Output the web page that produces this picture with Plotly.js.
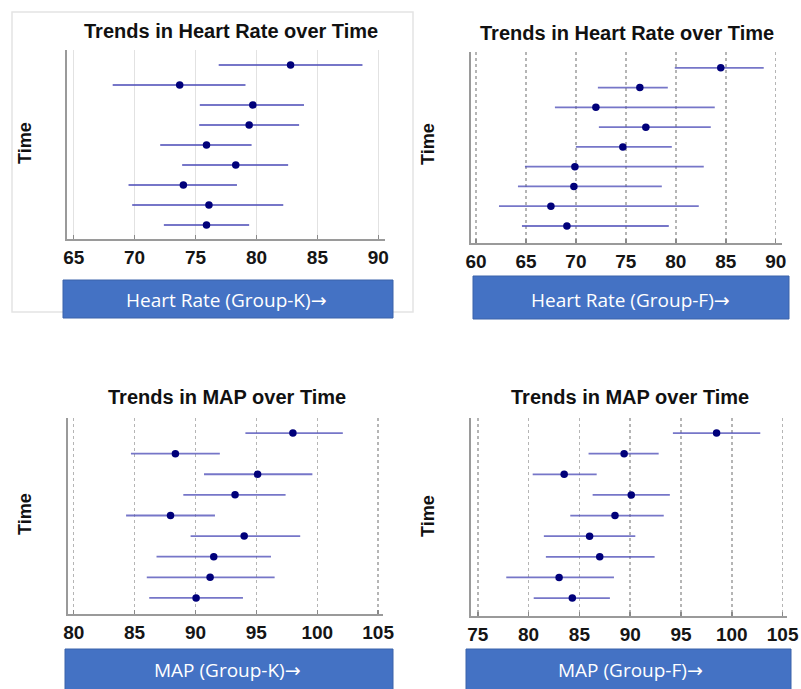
<!DOCTYPE html>
<html>
<head>
<meta charset="utf-8">
<script src="https://cdn.plot.ly/plotly-3.0.1.min.js"></script>
<style>html,body{margin:0;padding:0;background:#fff;}#chart{width:801px;height:689px;}</style>
</head>
<body>
<div id="chart"></div>
<script>
// Time points, top to bottom
const timePoints = [1, 2, 3, 4, 5, 6, 7, 8, 9];

// Heart Rate, Group-K
const hrK_mean = [82.8, 73.7, 79.7, 79.4, 75.9, 78.3, 74.0, 76.1, 75.9];
const hrK_low  = [76.9, 68.2, 75.35, 75.3, 72.1, 73.9, 69.5, 69.8, 72.4];
const hrK_high = [88.7, 79.1, 83.9, 83.5, 79.6, 82.6, 78.4, 82.2, 79.4];

// Heart Rate, Group-F
const hrF_mean = [84.5, 76.4, 72.0, 77.0, 74.7, 69.9, 69.8, 67.5, 69.1];
const hrF_low  = [79.9, 72.2, 67.9, 72.3, 70.0, 64.9, 64.2, 62.3, 64.6];
const hrF_high = [88.8, 79.2, 83.9, 83.5, 79.6, 82.8, 78.6, 82.3, 79.3];

// MAP, Group-K
const mapK_mean = [98.0, 88.35, 95.1, 93.25, 87.95, 94.0, 91.5, 91.2, 90.05];
const mapK_low  = [94.1, 84.7, 90.7, 89.0, 84.3, 89.6, 86.8, 86.0, 86.2];
const mapK_high = [102.1, 92.0, 99.6, 97.4, 91.6, 98.6, 96.2, 96.5, 93.9];

// MAP, Group-F
const mapF_mean = [98.5, 89.4, 83.5, 90.1, 88.5, 86.0, 87.0, 83.0, 84.3];
const mapF_low  = [94.2, 85.9, 80.4, 86.3, 84.1, 81.5, 81.7, 77.8, 80.5];
const mapF_high = [102.8, 92.8, 86.7, 93.9, 93.3, 90.5, 92.4, 88.4, 88.0];

const panelTitles = ["Trends in Heart Rate over Time", "Trends in Heart Rate over Time",
                     "Trends in MAP over Time", "Trends in MAP over Time"];
const boxLabels = ["Heart Rate (Group-K)", "Heart Rate (Group-F)",
                   "MAP (Group-K)", "MAP (Group-F)"];
const arrowGlyph = "\u2192";
const yLabel = "Time";

const W = 801, H = 689;
const px = v => v / W;
const py = v => 1 - v / H;

const series = [
  {mean: hrK_mean, low: hrK_low, high: hrK_high},
  {mean: hrF_mean, low: hrF_low, high: hrF_high},
  {mean: mapK_mean, low: mapK_low, high: mapK_high},
  {mean: mapF_mean, low: mapF_low, high: mapF_high}
];

// layout geometry (pixels)
const geo = [
  {x0: 67, x1: 385, y0: 50, y1: 239, xr: [64.45, 90.55], yr: [9.7, 0.25], ticks: [65,70,75,80,85,90], dash: 'solid',
   title: [231, 31], ylab: [25, 143], box: [63, 393, 280, 318], boxText: [226, 300]},
  {x0: 470.7, x1: 781.7, y0: 52, y1: 243, xr: [59.47, 90.6], yr: [9.86, 0.2], ticks: [60,65,70,75,80,85,90], dash: 'dot',
   title: [627, 33], ylab: [428, 144], box: [473, 789, 276, 319], boxText: [630, 300]},
  {x0: 68, x1: 383, y0: 418, y1: 614, xr: [79.53, 105.4], yr: [9.78, 0.27], ticks: [80,85,90,95,100,105], dash: 'dot',
   title: [227, 397], ylab: [25, 514], box: [65, 393, 649, 692], boxText: [228, 670]},
  {x0: 470.7, x1: 786.7, y0: 418, y1: 616, xr: [74.3, 105.4], yr: [9.87, 0.27], ticks: [75,80,85,90,95,100,105], dash: 'dot',
   title: [630, 397], ylab: [428, 516], box: [466, 791, 649, 692], boxText: [630, 670]}
];

const traces = [];
const layout = {
  width: W, height: H,
  margin: {l: 0, r: 0, t: 0, b: 0},
  paper_bgcolor: '#ffffff', plot_bgcolor: '#ffffff',
  showlegend: false,
  font: {family: 'Liberation Sans, Arial, sans-serif', color: '#111'},
  shapes: [
    {type: 'rect', xref: 'paper', yref: 'paper', x0: px(12), x1: px(413), y0: py(312), y1: py(12),
     line: {color: '#e4e4e4', width: 1.5}, fillcolor: 'rgba(0,0,0,0)', layer: 'below'}
  ],
  annotations: []
};

series.forEach((s, i) => {
  const g = geo[i];
  const n = i + 1;
  const xa = n === 1 ? 'x' : 'x' + n;
  const ya = n === 1 ? 'y' : 'y' + n;
  traces.push({
    type: 'scatter', mode: 'markers',
    x: s.mean, y: timePoints,
    xaxis: xa, yaxis: ya,
    marker: {color: '#00007a', size: 7.5, symbol: 'circle'},
    error_x: {
      type: 'data', symmetric: false,
      array: s.high.map((h, k) => h - s.mean[k]),
      arrayminus: s.mean.map((m, k) => m - s.low[k]),
      color: 'rgba(80,80,185,0.78)', thickness: 1.8, width: 0
    },
    hoverinfo: 'x+y'
  });
  const xk = 'xaxis' + (n === 1 ? '' : n);
  const yk = 'yaxis' + (n === 1 ? '' : n);
  layout[xk] = {
    domain: [px(g.x0), px(g.x1)], anchor: ya, range: g.xr,
    tickmode: 'array', tickvals: g.ticks, ticktext: g.ticks.map(String),
    showgrid: true, gridcolor: g.dash === 'solid' ? '#e2e2e2' : '#b5b5b5',
    gridwidth: g.dash === 'solid' ? 1.2 : 1.5, griddash: g.dash,
    showline: true, linecolor: '#9a9a9a', linewidth: 2.2,
    ticks: 'inside', ticklen: 4, tickwidth: 1.5, tickcolor: '#8a8a8a',
    tickfont: {size: 19, weight: 'bold', color: '#151515', family: 'Liberation Sans, Arial, sans-serif'},
    ticklabelstandoff: 0,
    zeroline: false, fixedrange: true
  };
  layout[yk] = {
    domain: [py(g.y1), py(g.y0)], anchor: xa, range: g.yr,
    showticklabels: false, ticks: '', showgrid: false, zeroline: false,
    showline: true, linecolor: '#9a9a9a', linewidth: 2.2, fixedrange: true
  };
  // panel title
  layout.annotations.push({
    xref: 'paper', yref: 'paper', x: px(g.title[0]), y: py(g.title[1]),
    xanchor: 'center', yanchor: 'middle', showarrow: false,
    text: '<b>' + panelTitles[i] + '</b>',
    font: {size: 20, color: '#111', family: 'Liberation Sans, Arial, sans-serif'}
  });
  // y label
  layout.annotations.push({
    xref: 'paper', yref: 'paper', x: px(g.ylab[0]), y: py(g.ylab[1]),
    xanchor: 'center', yanchor: 'middle', showarrow: false, textangle: -90,
    text: '<b>' + yLabel + '</b>',
    font: {size: 18, color: '#111', family: 'Liberation Sans, Arial, sans-serif'}
  });
  // blue box
  layout.shapes.push({
    type: 'rect', xref: 'paper', yref: 'paper',
    x0: px(g.box[0]), x1: px(g.box[1]), y0: py(g.box[3]), y1: py(g.box[2]),
    fillcolor: '#4472c4', line: {color: '#3a62aa', width: 1}, layer: 'above'
  });
  layout.annotations.push({
    xref: 'paper', yref: 'paper', x: px(g.boxText[0]), y: py(g.boxText[1]),
    xanchor: 'center', yanchor: 'middle', showarrow: false,
    text: boxLabels[i] + '<span style="font-family:DejaVu Sans">' + arrowGlyph + '</span>',
    font: {size: 19, color: '#ffffff', family: 'Open Sans, Noto Sans, sans-serif'}
  });
});

Plotly.newPlot('chart', traces, layout, {displayModeBar: false, staticPlot: true});
</script>
</body>
</html>
